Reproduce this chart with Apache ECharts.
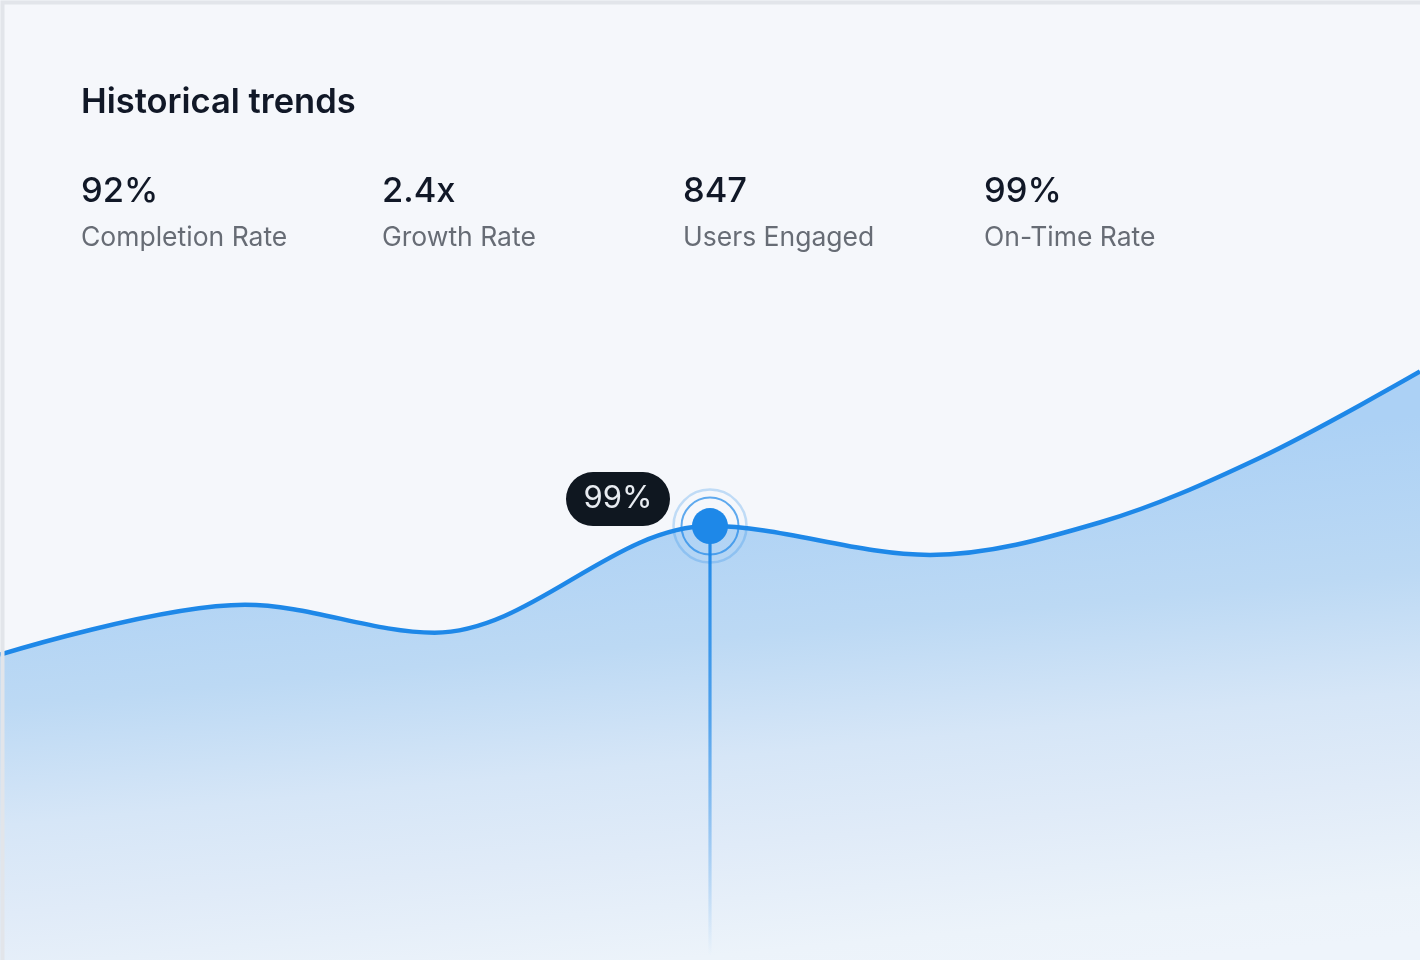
<!DOCTYPE html>
<html>
<head>
<meta charset="utf-8">
<script src="https://cdn.jsdelivr.net/npm/echarts@6/dist/echarts.min.js"></script>
<style>
  html, body { margin: 0; padding: 0; background: #f5f7fb; }
  #chart { width: 1420px; height: 960px; }
</style>
</head>
<body>
<div id="chart"></div>
<script>
// ---- data ----
const titleText = 'Historical trends';
const statValues = ['92%', '2.4x', '847', '99%'];
const statLabels = ['Completion Rate', 'Growth Rate', 'Users Engaged', 'On-Time Rate'];
const xPositions = [0, 17.25, 30.6, 50, 65.5, 77.5, 88.7, 100];
const seriesValues = [31.8, 37.0, 34.1, 45.2, 42.2, 45.6, 52.3, 61.3];
const highlightIndex = 3;
const highlightLabel = '99%';

const FONT = 'Inter, "Noto Sans", sans-serif';
const LINE = '#1e88e8';

const points = xPositions.map((x, i) => [x, seriesValues[i]]);
const hiPoint = [points[highlightIndex]];

const chart = echarts.init(document.getElementById('chart'), null, { renderer: 'canvas' });

const graphics = [
  {
    type: 'text', left: 81, top: 85, z: 10,
    style: { text: titleText, font: '600 34.5px ' + FONT, fill: '#111827' }
  }
];
statValues.forEach((v, i) => {
  graphics.push({
    type: 'text', left: 81 + i * 301, top: 174, z: 10,
    style: { text: v, font: '500 34.5px ' + FONT, fill: '#111827' }
  });
  graphics.push({
    type: 'text', left: 81 + i * 301, top: 225, z: 10,
    style: { text: statLabels[i], font: '400 26.5px ' + FONT, fill: '#676c75' }
  });
});
graphics.push({
  type: 'rect', left: 0, top: 0, z: 100, silent: true,
  shape: { x: 0, y: 0, width: 1420, height: 960 },
  style: { fill: 'none', stroke: '#e2e5ea', lineWidth: 4 }
});

chart.setOption({
  animation: false,
  backgroundColor: '#f5f7fb',
  grid: { left: 0, right: 0, top: 0, bottom: 0 },
  xAxis: { type: 'value', min: 0, max: 100, show: false },
  yAxis: { type: 'value', min: 0, max: 100, show: false },
  graphic: graphics,
  series: [
    {
      type: 'line',
      data: points,
      smooth: 0.34,
      symbol: 'none',
      lineStyle: { color: LINE, width: 4.5 },
      areaStyle: {
        opacity: 1,
        color: new echarts.graphic.LinearGradient(0, 550, 49, 1066, [
          { offset: 0, color: '#acd1f5' },
          { offset: 0.3, color: '#bcd9f4' },
          { offset: 0.53, color: '#d6e6f7' },
          { offset: 0.7, color: '#e0ebf8' },
          { offset: 0.91, color: '#ecf3fa' },
          { offset: 1, color: '#eef4fb' }
        ], true)
      },
      z: 2
    },
    {
      type: 'custom',
      data: hiPoint,
      z: 5,
      renderItem: function (params, api) {
        const p = api.coord([api.value(0), api.value(1)]);
        const base = api.coord([api.value(0), 0]);
        const bottom = base[1] - 4;
        const pillW = 104, pillH = 54;
        const pcx = p[0] - 92, pcy = p[1] - 27;
        return {
          type: 'group',
          children: [
            {
              type: 'rect',
              shape: { x: p[0] - 1.6, y: p[1], width: 3.2, height: bottom - p[1] },
              style: {
                fill: new echarts.graphic.LinearGradient(0, p[1], 0, bottom, [
                  { offset: 0, color: 'rgba(30,136,232,1)' },
                  { offset: 0.45, color: 'rgba(30,136,232,0.7)' },
                  { offset: 1, color: 'rgba(30,136,232,0)' }
                ], true)
              }
            },
            {
              type: 'circle',
              shape: { cx: p[0], cy: p[1], r: 36.5 },
              style: { fill: 'none', stroke: 'rgba(30,136,232,0.25)', lineWidth: 2.5 }
            },
            {
              type: 'circle',
              shape: { cx: p[0], cy: p[1], r: 28.5 },
              style: { fill: 'none', stroke: 'rgba(30,136,232,0.7)', lineWidth: 2 }
            },
            {
              type: 'circle',
              shape: { cx: p[0], cy: p[1], r: 18 },
              style: { fill: LINE }
            },
            {
              type: 'rect',
              shape: { x: pcx - pillW / 2, y: pcy - pillH / 2, width: pillW, height: pillH, r: pillH / 2 },
              style: { fill: '#0f1720' }
            },
            {
              type: 'text',
              x: pcx, y: pcy,
              style: {
                text: highlightLabel, font: '400 31px ' + FONT, fill: '#e8ecf1',
                align: 'center', verticalAlign: 'middle'
              }
            }
          ]
        };
      }
    }
  ]
});
</script>
</body>
</html>
